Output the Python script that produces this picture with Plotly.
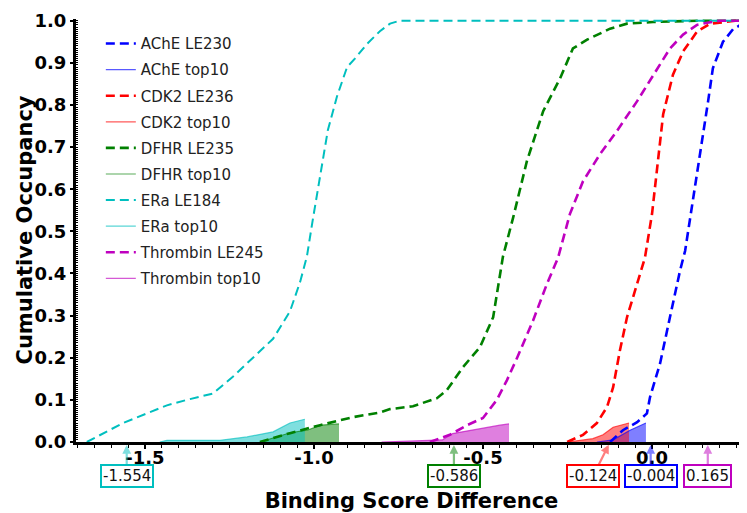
import plotly.graph_objects as go

# ---------------- data ----------------
ache_le_x = [-0.124, -0.086, -0.044, -0.015, -0.006, 0.024, 0.053, 0.083, 0.098, 0.118, 0.136, 0.151, 0.166, 0.180, 0.210, 0.240, 0.269, 0.29]
ache_le_y = [0.0, 0.028, 0.047, 0.068, 0.106, 0.187, 0.296, 0.407, 0.454, 0.556, 0.65, 0.73, 0.809, 0.887, 0.95, 0.98, 0.993, 1.0]
ache_top_x = [-0.163, -0.115, -0.065, -0.018]
ache_top_y = [0.0, 0.005, 0.028, 0.045]

cdk2_le_x = [-0.251, -0.204, -0.163, -0.133, -0.115, -0.095, -0.074, -0.044, -0.021, 0.0, 0.015, 0.033, 0.062, 0.092, 0.133, 0.172, 0.21, 0.246, 0.29]
cdk2_le_y = [0.0, 0.017, 0.045, 0.083, 0.13, 0.217, 0.296, 0.375, 0.437, 0.541, 0.65, 0.778, 0.872, 0.927, 0.974, 0.993, 0.996, 1.0, 1.0]
cdk2_top_x = [-0.25, -0.175, -0.145, -0.115, -0.068]
cdk2_top_y = [0.0, 0.008, 0.017, 0.035, 0.045]

dfhr_le_x = [-1.16, -1.071, -0.982, -0.944, -0.885, -0.805, -0.775, -0.707, -0.636, -0.607, -0.559, -0.509, -0.470, -0.441, -0.411, -0.370, -0.322, -0.272, -0.234, -0.192, -0.124, -0.074, 0.003, 0.14, 0.29]
dfhr_le_y = [0.0, 0.021, 0.040, 0.047, 0.059, 0.07, 0.078, 0.085, 0.104, 0.123, 0.178, 0.225, 0.296, 0.44, 0.532, 0.667, 0.785, 0.863, 0.934, 0.955, 0.981, 0.993, 0.997, 1.0, 1.0]
dfhr_top_x = [-1.16, -1.07, -1.02, -0.98, -0.926]
dfhr_top_y = [0.0, 0.022, 0.028, 0.04, 0.043]

era_le_x = [-1.672, -1.565, -1.435, -1.376, -1.299, -1.240, -1.121, -1.071, -1.041, -1.021, -1.003, -0.982, -0.959, -0.932, -0.902, -0.879, -0.843, -0.805, -0.775, -0.746, 0.29]
era_le_y = [0.0, 0.045, 0.087, 0.1, 0.115, 0.155, 0.245, 0.31, 0.38, 0.44, 0.53, 0.635, 0.74, 0.82, 0.89, 0.91, 0.945, 0.975, 0.993, 1.0, 1.0]
era_top_x = [-1.456, -1.435, -1.278, -1.198, -1.121, -1.071, -1.027]
era_top_y = [0.0, 0.004, 0.004, 0.012, 0.024, 0.045, 0.054]

thr_le_x = [-0.657, -0.598, -0.547, -0.500, -0.459, -0.429, -0.399, -0.352, -0.311, -0.278, -0.243, -0.204, -0.154, -0.104, -0.044, 0.015, 0.053, 0.092, 0.133, 0.163, 0.20, 0.29]
thr_le_y = [0.0, 0.017, 0.04, 0.057, 0.1, 0.147, 0.2, 0.288, 0.375, 0.437, 0.541, 0.619, 0.683, 0.738, 0.809, 0.887, 0.934, 0.967, 0.99, 0.995, 1.0, 1.0]
thr_top_x = [-0.80, -0.62, -0.59, -0.55, -0.49, -0.45, -0.423]
thr_top_y = [0.0, 0.005, 0.02, 0.026, 0.035, 0.04, 0.043]

marker_values = [-1.554, -0.586, -0.124, -0.004, 0.165]
marker_labels = ["-1.554", "-0.586", "-0.124", "-0.004", "0.165"]
marker_colors = ["#00bfbf", "#008000", "#ff0000", "#0000ff", "#bf00bf"]
marker_shift = [0, 0, -17, 0, 0]

x_ticks = [-1.5, -1.0, -0.5, 0.0]
y_ticks = [0.0, 0.1, 0.2, 0.3, 0.4, 0.5, 0.6, 0.7, 0.8, 0.9, 1.0]

series = [
    ("AChE", "LE230", "#0000ff", (0, 0, 255), ache_le_x, ache_le_y, ache_top_x, ache_top_y, 2.6),
    ("CDK2", "LE236", "#ff0000", (255, 0, 0), cdk2_le_x, cdk2_le_y, cdk2_top_x, cdk2_top_y, 2.6),
    ("DFHR", "LE235", "#008000", (0, 128, 0), dfhr_le_x, dfhr_le_y, dfhr_top_x, dfhr_top_y, 2.6),
    ("ERa", "LE184", "#00bfbf", (0, 191, 191), era_le_x, era_le_y, era_top_x, era_top_y, 2.0),
    ("Thrombin", "LE245", "#bf00bf", (191, 0, 191), thr_le_x, thr_le_y, thr_top_x, thr_top_y, 2.6),
]

fig = go.Figure()

# fills first (no legend)
for name, le, col, rgb, lx, ly, tx, ty, lw in series:
    fig.add_trace(go.Scatter(
        x=tx, y=ty, mode="lines", fill="tozeroy",
        fillcolor="rgba(%d,%d,%d,0.5)" % rgb,
        line=dict(width=0, color=col), showlegend=False, hoverinfo="skip"))

for name, le, col, rgb, lx, ly, tx, ty, lw in series:
    fig.add_trace(go.Scatter(
        x=lx, y=ly, mode="lines", name="%s %s" % (name, le),
        line=dict(color=col, width=lw, dash="9px,5px"),
        legendgroup=name + le, legendrank=len(fig.data)))
    fig.add_trace(go.Scatter(
        x=tx, y=ty, mode="lines", name="%s top10" % name,
        line=dict(color="rgba(%d,%d,%d,0.65)" % rgb, width=1.2),
        legendgroup=name + "top", legendrank=len(fig.data)))

for v, lab, c, sh in zip(marker_values, marker_labels, marker_colors, marker_shift):
    r, g, b = int(c[1:3], 16), int(c[3:5], 16), int(c[5:7], 16)
    fig.add_annotation(
        x=v, y=0, xref="x", yref="y", text=lab, showarrow=True,
        ax=sh, ay=34, axref="pixel", ayref="pixel",
        arrowhead=2, arrowsize=0.8, arrowwidth=2.2,
        arrowcolor="rgba(%d,%d,%d,0.5)" % (r, g, b), standoff=3,
        font=dict(family="DejaVu Sans", size=15, color="#111"),
        bgcolor="white", bordercolor=c, borderwidth=2, borderpad=1)

# y-axis title placed as a paper annotation
fig.add_annotation(
    x=0, y=0.5, xref="paper", yref="paper", xshift=-52, showarrow=False,
    text="<b>Cumulative Occupancy</b>", textangle=-90,
    xanchor="center", yanchor="middle",
    font=dict(family="DejaVu Sans", size=21, color="black"))

fig.update_layout(
    width=739, height=505,
    margin=dict(l=68, r=0, t=11, b=71, autoexpand=False),
    plot_bgcolor="white", paper_bgcolor="white",
    font=dict(family="DejaVu Sans", color="black"),
    legend=dict(x=0.037, y=0.9805, xanchor="left", yanchor="top",
                bgcolor="rgba(0,0,0,0)", borderwidth=0,
                font=dict(family="DejaVu Sans", size=15, color="#222"),
                traceorder="grouped", tracegroupgap=3.6),
    xaxis=dict(range=[-1.704, 0.281], tickvals=x_ticks, automargin=False,
               ticktext=["%.1f" % t for t in x_ticks],
               tickfont=dict(family="DejaVu Sans", size=18, color="black", weight="bold"),
               showline=True, linewidth=3, linecolor="black", mirror=False,
               ticks="outside", ticklen=4, tickwidth=2, tickcolor="black",
               ticklabelstandoff=-7,
               showgrid=False, zeroline=False,
               minor=dict(dtick=0.05, tick0=0, ticks="outside", ticklen=3, tickwidth=1, tickcolor="black"),
               title=dict(text="Binding Score Difference", standoff=28,
                          font=dict(family="DejaVu Sans", size=21, color="black", weight="bold"))),
    yaxis=dict(range=[0, 1.004], tickvals=y_ticks, automargin=False,
               ticktext=["%.1f" % t for t in y_ticks],
               tickfont=dict(family="DejaVu Sans", size=18, color="black", weight="bold"),
               showline=True, linewidth=3, linecolor="black",
               ticks="outside", ticklen=3, tickwidth=2, tickcolor="black",
               showgrid=False, zeroline=False,
               minor=dict(dtick=0.005, tick0=0, ticks="inside", ticklen=2, tickwidth=1, tickcolor="black")),
)

fig.write_html("out.html")
